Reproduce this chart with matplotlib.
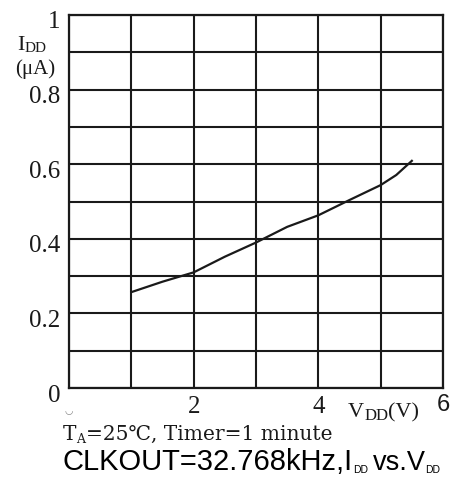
import matplotlib
matplotlib.use("Agg")
import matplotlib.pyplot as plt
import matplotlib.transforms as mtransforms
import numpy as np

# --- data ----------------------------------------------------------------
vdd = [1.0, 1.5, 2.0, 2.5, 3.0, 3.5, 4.0, 4.5, 5.0, 5.25, 5.5]
idd = [0.257, 0.285, 0.310, 0.352, 0.390, 0.432, 0.463, 0.504, 0.544, 0.571, 0.609]

y_ticks = [0, 0.2, 0.4, 0.6, 0.8, 1.0]
y_tick_labels = ["0", "0.2", "0.4", "0.6", "0.8", "1"]
x_ticks = [2, 4]
x_tick_labels = ["2", "4"]

W, H = 453, 488
ink = "#1a1a1a"
serif = ["Liberation Serif", "DejaVu Serif"]
dserif = ["DejaVu Serif"]
sans = ["Liberation Sans", "DejaVu Sans"]

fig = plt.figure(figsize=(W / 100, H / 100), dpi=100)
renderer = fig.canvas.get_renderer()


def write_run(x_px, y_px, parts, color=ink):
    """Write (text, fontsize, drop_px, family[, gap_px]) pieces side by side.

    x_px / y_px give the baseline start in pixels from the top-left corner;
    drop_px moves a piece down (subscripts), gap_px adds space before it.
    """
    x = x_px
    for part in parts:
        txt, size, drop, fam = part[:4]
        x += part[4] if len(part) > 4 else 0
        t = fig.text(x / W, (H - y_px - drop) / H, txt, fontsize=size, family=fam,
                     va="baseline", ha="left", color=color)
        x = t.get_window_extent(renderer).x1


ax = fig.add_axes([69 / W, 100 / H, 374 / W, 373 / H])

ax.plot(vdd, idd, color=ink, lw=1.6)

ax.set_xlim(0, 6)
ax.set_ylim(0, 1)
ax.set_xticks(np.arange(0, 7, 1), minor=True)
ax.set_yticks(np.arange(0, 1.01, 0.1), minor=True)
ax.set_yticks(y_ticks)
ax.set_yticklabels(y_tick_labels, family="Liberation Serif", fontsize=18)
ax.set_xticks(x_ticks)
ax.set_xticklabels(x_tick_labels, family="Liberation Serif", fontsize=18)
ax.grid(True, which="both", color=ink, lw=1.5)
ax.set_axisbelow(True)
for s in ax.spines.values():
    s.set_color(ink)
    s.set_linewidth(1.6)
ax.tick_params(which="both", length=0, colors=ink)
ax.tick_params(axis="y", pad=6)
ax.tick_params(axis="x", pad=6)

# y labels sit a little below their gridlines in the original
shift = mtransforms.ScaledTranslation(0, -5 / 100, fig.dpi_scale_trans)
for lbl in ax.get_yticklabels():
    lbl.set_transform(lbl.get_transform() + shift)

# odd bits on the x axis
xtr = ax.get_xaxis_transform()
ax.text(0, -0.062, "◡", transform=xtr, ha="center", va="center",
        fontsize=7, color="#888888")
ax.text(6, -0.045, "6", transform=xtr, ha="center", va="center",
        family="Liberation Sans", fontsize=17, color=ink)

# axis titles
write_run(348, 417, [("V", 16, 0, serif), ("DD", 12, 3, serif), ("(V)", 16, 0, serif)])
write_run(17, 50, [("I", 16, 0, serif), ("DD", 11, 2, serif)])
write_run(15, 74, [("(μA)", 15, 0, serif)])

# captions
write_run(63, 440, [("T", 14.5, 0, dserif), ("A", 9, 3, dserif),
                    ("=25℃, Timer=1 minute", 14.5, 0, dserif)])
write_run(63, 470, [("CLKOUT=32.768kHz,I", 21, 0, sans), ("DD", 7.5, 3, sans, 0),
                    ("vs.V", 19.5, 0, sans, 5), ("DD", 7.5, 3, sans, -1)], color="black")

fig.savefig("out.png", dpi=100)
